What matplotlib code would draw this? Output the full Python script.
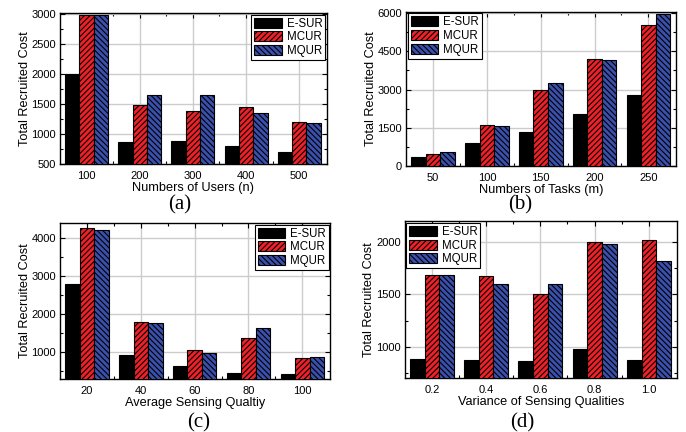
import matplotlib
matplotlib.use('Agg')
import matplotlib.pyplot as plt
from matplotlib.ticker import MultipleLocator, FixedLocator
import numpy as np

plt.rcParams['font.family'] = ['Liberation Sans', 'DejaVu Sans']
plt.rcParams['hatch.linewidth'] = 0.8

series = ['E-SUR', 'MCUR', 'MQUR']

# (a) number of users
users = ['100', '200', '300', '400', '500']
a_esur = [2000, 870, 880, 800, 700]
a_mcur = [2990, 1480, 1390, 1450, 1200]
a_mqur = [2990, 1650, 1650, 1360, 1190]

# (b) number of tasks
tasks = ['50', '100', '150', '200', '250']
b_esur = [360, 900, 1330, 2040, 2790]
b_mcur = [460, 1610, 2970, 4200, 5540]
b_mqur = [540, 1570, 3260, 4180, 5960]

# (c) average sensing quality
quality = ['20', '40', '60', '80', '100']
c_esur = [2790, 920, 650, 450, 440]
c_mcur = [4270, 1800, 1060, 1370, 840]
c_mqur = [4230, 1780, 970, 1630, 880]

# (d) variance of sensing qualities
variance = ['0.2', '0.4', '0.6', '0.8', '1.0']
d_esur = [885, 870, 865, 975, 870]
d_mcur = [1685, 1680, 1500, 2005, 2020]
d_mqur = [1685, 1595, 1600, 1985, 1820]

fig = plt.figure(figsize=(6.86, 4.32), dpi=100)

panels = [
    # rect, cats, data, xlabel, ylim, ystep, caption, caption pos, legend loc
    ([0.0875, 0.620, 0.389, 0.350], users, (a_esur, a_mcur, a_mqur),
     'Numbers of Users (n)', (500, 3020), 500, '(a)', (0.262, 0.525), 'upper right'),
    ([0.592, 0.616, 0.394, 0.357], tasks, (b_esur, b_mcur, b_mqur),
     'Numbers of Tasks (m)', (0, 6060), 1500, '(b)', (0.758, 0.525), 'upper left'),
    ([0.0875, 0.123, 0.394, 0.361], quality, (c_esur, c_mcur, c_mqur),
     'Average Sensing Qualtiy', (300, 4410), 1000, '(c)', (0.289, 0.022), 'upper right'),
    ([0.590, 0.125, 0.397, 0.363], variance, (d_esur, d_mcur, d_mqur),
     'Variance of Sensing Qualities', (700, 2200), 500, '(d)', (0.762, 0.022), 'upper left'),
]

faces = ['black', '#f02028', '#3a50ac']
hatches = [None, '//////', '\\\\\\\\\\\\']
w = 0.27

for rect, cats, vals, xlabel, ylim, ystep, cap, cap_pos, loc in panels:
    ax = fig.add_axes(rect)
    x = np.arange(len(cats))
    for k in range(3):
        ax.bar(x + (k - 1) * w, vals[k], w, bottom=0, color=faces[k],
               edgecolor='black', linewidth=0.8, hatch=hatches[k],
               label=series[k], zorder=3)
    ax.set_xlim(-0.5, 4.52)
    ax.set_ylim(*ylim)
    ax.set_xticks(x)
    ax.set_xticklabels(cats)
    ax.xaxis.set_minor_locator(FixedLocator(x[:-1] + 0.5))
    ax.yaxis.set_major_locator(MultipleLocator(ystep))
    ax.yaxis.set_minor_locator(MultipleLocator(ystep / 2))
    ax.tick_params(which='both', direction='in', top=True, right=True,
                   labelsize=8)
    ax.tick_params(axis='x', pad=5)
    ax.tick_params(axis='y', pad=3)
    ax.tick_params(which='major', length=3.5, width=0.8)
    ax.tick_params(which='minor', length=2, width=0.8)
    ax.grid(True, which='major', color='#cccccc', linewidth=1.0, zorder=0)
    ax.set_axisbelow(True)
    for sp in ax.spines.values():
        sp.set_linewidth(1.0)
    ax.set_xlabel(xlabel, fontsize=9.2, labelpad=1)
    ax.set_ylabel('Total Recruited Cost', fontsize=9.2, labelpad=0.5)
    leg = ax.legend(loc=loc, fontsize=8.3, frameon=True, fancybox=False,
                    edgecolor='black', framealpha=1, borderpad=0.25,
                    labelspacing=0.15, handlelength=2.4, handleheight=0.95,
                    handletextpad=0.4, borderaxespad=0.15)
    leg.get_frame().set_linewidth(0.8)
    fig.text(cap_pos[0], cap_pos[1], cap, ha='center', va='center',
             fontsize=15, family='Liberation Serif')

fig.savefig('out.png', dpi=100)
